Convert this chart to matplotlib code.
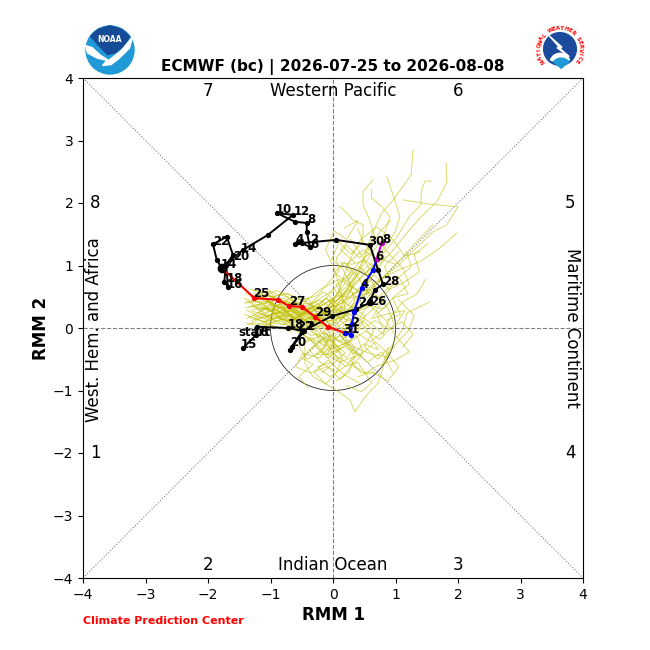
import numpy as np
import matplotlib
matplotlib.use('Agg')
from matplotlib import pyplot as plt
from matplotlib.patches import Circle, Wedge, Polygon

# observed RMM track
obs_rmm1 = [-1.44, -1.23, -1.22, -0.72, -0.46, -0.66, -0.69, -0.50, -0.02, 0.37, 0.58, 0.59, 0.67, 0.80, 0.72, 0.59,
            0.05, -0.50, -0.61, -0.56, -0.37, -0.42, -0.42, -0.61, -0.90, -0.64, -1.04, -1.44, -1.71, -1.74, -1.68,
            -1.71, -1.60, -1.70, -1.92, -1.86, -1.78]
obs_rmm2 = [-0.32, -0.11, 0.02, 0.00, -0.05, -0.30, -0.35, -0.06, 0.19, 0.30, 0.40, 0.43, 0.61, 0.70, 0.93, 1.33,
            1.41, 1.36, 1.34, 1.38, 1.30, 1.54, 1.68, 1.70, 1.84, 1.81, 1.49, 1.25, 1.02, 0.74, 0.66,
            1.01, 1.17, 1.46, 1.34, 1.09, 0.96]
obs_days = ['start', '16', '15', '18', '22', '2', '20', '24', '26', '28', '30', '2', '4', '6', '8', '10', '12', '14',
            '20', '22', '14', '18', '16']
obs_day_x = [-1.26, -1.15, -1.34, -0.59, -0.45, -0.37, -0.56, 0.53, 0.72, 0.93, 0.70, -0.30, -0.54, -0.30, -0.34,
             -0.78, -0.50, -1.34, -1.47, -1.79, -1.66, -1.57, -1.57]
obs_day_y = [-0.08, -0.08, -0.26, 0.05, 0.02, 0.02, -0.24, 0.40, 0.43, 0.75, 1.38, 1.42, 1.41, 1.34, 1.73,
             1.90, 1.86, 1.28, 1.15, 1.39, 1.01, 0.79, 0.70]

# ensemble mean forecast, split by month colour
fc_red_x = [-1.78, -1.26, -0.88, -0.70, -0.50, -0.29, -0.08, 0.19]
fc_red_y = [0.96, 0.48, 0.45, 0.35, 0.34, 0.18, 0.02, -0.08]
fc_blue_x = [0.19, 0.29, 0.30, 0.34, 0.46, 0.64, 0.70]
fc_blue_y = [-0.08, -0.11, 0.06, 0.26, 0.64, 0.93, 1.10]
fc_mag_x = [0.70, 0.78]
fc_mag_y = [1.10, 1.36]
fc_days = ['25', '27', '29', '31', '2', '4', '6', '8']
fc_day_x = [-1.14, -0.58, -0.16, 0.30, 0.35, 0.51, 0.75, 0.85]
fc_day_y = [0.55, 0.42, 0.24, -0.02, 0.08, 0.69, 1.15, 1.41]

# ensemble members (rmm1, rmm2)
m01 = [(-1.30, .42), (-1.00, .38), (-.72, .30), (-.40, .32), (-.12, .22), (.10, .30), (.28, .62), (.48, 1.06), (.54, 1.28), (.64, 1.54), (.78, 1.84), (.94, 2.02), (1.10, 2.24), (1.25, 2.45), (1.28, 2.85)]
m02 = [(-1.22, .50), (-.95, .45), (-.60, .40), (-.30, .20), (-.02, .28), (.25, .48), (.55, .72), (.80, 1.06), (.99, 1.28), (1.18, 1.52), (1.39, 1.76), (1.66, 2.02), (1.82, 2.32), (1.81, 2.64)]
m03 = [(-1.35, .35), (-1.02, .30), (-.70, .35), (-.38, .15), (-.10, .35), (.22, .55), (.50, .85), (.72, 1.10), (1.02, 1.45), (1.22, 1.78), (1.41, 1.98), (1.41, 2.18), (1.47, 2.35), (1.58, 2.35)]
m04 = [(-1.10, .58), (-.82, .40), (-.55, .25), (-.22, .30), (.05, .18), (.35, .48), (.68, .72), (1.05, 1.00), (1.30, 1.25), (1.60, 1.54), (1.82, 1.65), (2.00, 1.94), (1.55, 1.98), (1.12, 2.05)]
m05 = [(-1.28, .30), (-.95, .32), (-.68, .18), (-.35, .25), (-.08, .42), (.15, .60), (.40, .85), (.62, 1.05), (.82, 1.28), (.99, 1.53), (1.07, 1.78), (.96, 2.13), (.86, 2.42)]
m06 = [(-1.40, .55), (-1.05, .45), (-.75, .25), (-.45, .30), (-.15, .12), (.10, .40), (.30, .72), (.48, 1.00), (.70, 1.30), (.83, 1.53), (.91, 1.78), (.80, 1.92), (.62, 2.08), (.61, 2.22)]
m07 = [(-1.15, .62), (-.88, .42), (-.58, .38), (-.30, .10), (-.02, .35), (.22, .60), (.38, .90), (.55, 1.20), (.66, 1.48), (.58, 1.75), (.48, 1.97), (.48, 2.18), (.64, 2.37)]
m08 = [(-1.25, .18), (-.95, .30), (-.62, .15), (-.35, .32), (-.10, .30), (.08, .55), (.18, .85), (.30, 1.15), (.48, 1.48), (.48, 1.65), (.32, 1.73), (.22, 1.84), (.11, 1.94)]
m09 = [(-1.30, .12), (-1.00, .22), (-.68, .28), (-.35, .08), (-.05, .22), (.25, .30), (.50, .55), (.78, .80), (1.10, .95), (1.39, 1.06), (1.71, 1.28), (1.98, 1.52)]
m10 = [(-1.38, .40), (-1.05, .52), (-.70, .40), (-.42, .15), (-.15, .25), (.18, .18), (.42, .45), (.70, .70), (.88, .90), (1.07, 1.09), (1.34, 1.38), (1.60, 1.65)]
m11 = [(-1.20, .05), (-.95, .15), (-.70, .22), (-.50, .05), (-.45, -.25), (-.45, -.56), (-.32, -.78), (0, -.96), (.27, -1.15), (.35, -1.34), (.54, -1.07), (.72, -.88), (.86, -.46), (.99, -.19), (1.12, -.02), (1.18, .24), (1.55, .42)]
m12 = [(-1.32, .28), (-1.02, .18), (-.72, .12), (-.45, .15), (-.20, -.05), (.05, -.18), (.32, -.30), (.62, -.42), (.86, -.46), (1.02, -.24), (1.20, -.05), (1.30, .20), (1.05, .45)]
m13 = [(-1.18, .40), (-.92, .22), (-.65, .30), (-.32, .02), (-.18, -.28), (.05, -.45), (.30, -.60), (.52, -.72), (.72, -.60), (.98, -.52), (1.22, -.38), (1.00, -.12), (.85, .10)]
m14 = [(-1.42, .22), (-1.10, .10), (-.80, .30), (-.52, .12), (-.25, .18), (-.02, .05), (.22, -.15), (.40, .10), (.62, .28), (.85, .55), (1.02, .78), (1.25, .98), (1.18, 1.22)]
m15 = [(-1.25, .55), (-.98, .50), (-.72, .42), (-.48, .28), (-.18, .40), (.02, .62), (.18, .40), (.35, .72), (.58, .95), (.42, 1.22), (.28, 1.42), (.12, 1.25), (.35, 1.05)]
m16 = [(-1.36, .05), (-1.08, .20), (-.80, .05), (-.55, .18), (-.28, -.10), (-.02, -.22), (.15, -.48), (.05, -.72), (-.12, -.90), (-.30, -.70), (-.08, -.52), (.18, -.75), (.42, -.88)]
m17 = [(-1.15, .32), (-.85, .35), (-.55, .10), (-.25, -.05), (-.05, -.30), (-.22, -.48), (-.48, -.40), (-.60, -.62), (-.35, -.72), (-.10, -.62), (.12, -.82), (.30, -.60), (.48, -.42)]
m18 = [(-1.28, .60), (-1.00, .58), (-.75, .50), (-.50, .45), (-.25, .52), (-.08, .72), (.10, .92), (.05, 1.12), (.22, 1.32), (.42, 1.12), (.60, 1.32), (.76, 1.55), (.92, 1.72)]
m19 = [(-1.08, .45), (-.80, .55), (-.50, .32), (-.22, .45), (.02, .30), (.30, .20), (.55, .38), (.80, .30), (1.00, .52), (1.22, .70), (1.12, .95), (.90, 1.18), (.72, 1.40)]
m20 = [(-1.40, .32), (-1.12, .38), (-.85, .15), (-.60, .05), (-.35, -.12), (-.12, -.08), (.08, -.30), (.30, -.20), (.52, -.05), (.75, -.18), (.98, .05), (.88, .32), (.70, .52)]
m21 = [(-1.20, .25), (-.90, .10), (-.62, .25), (-.40, -.02), (-.12, -.22), (.12, -.12), (.32, -.42), (.50, -.25), (.72, -.35), (.60, -.12), (.42, .15), (.62, .45), (.48, .75)]
m22 = [(-1.32, .50), (-1.05, .35), (-.78, .38), (-.50, .18), (-.28, .30), (-.02, .45), (.20, .28), (.12, .62), (.32, .88), (.18, 1.05), (.02, .88), (.25, .72), (.45, .55)]
m23 = [(-1.10, .15), (-.85, .28), (-.60, .02), (-.30, .22), (-.05, .10), (.15, .25), (.40, .05), (.28, -.22), (.05, -.38), (-.18, -.20), (-.38, -.35), (-.20, -.55), (.02, -.68)]
m24 = [(-1.38, .15), (-1.10, .30), (-.82, .22), (-.55, .35), (-.32, .25), (-.12, .48), (.05, .32), (.22, .12), (.10, -.10), (.32, -.35), (.55, -.55), (.78, -.38), (.95, -.70)]
m25 = [(-1.22, .38), (-.95, .25), (-.68, .08), (-.42, -.15), (-.20, -.35), (-.02, -.55), (-.25, -.62), (-.05, -.78), (.18, -.62), (.40, -.55), (.62, -.88), (.45, -1.02), (.22, -.92)]
m26 = [(-1.30, .08), (-1.02, .05), (-.75, -.02), (-.52, .22), (-.30, .35), (-.08, .20), (.12, .45), (.35, .30), (.48, .62), (.72, .48), (.95, .72), (.82, .98), (1.05, 1.22)]
m27 = [(-1.12, .52), (-.90, .60), (-.62, .50), (-.38, .38), (-.15, .58), (.05, .42), (.28, .70), (.15, .95), (-.02, 1.10), (.10, 1.38), (.28, 1.18), (.48, 1.38), (.40, 1.58)]
m28 = [(-1.05, .30), (-.78, .12), (-.48, .20), (-.28, .42), (-.05, .15), (.18, -.05), (.38, .22), (.58, .10), (.80, -.10), (.92, .18), (1.12, .42), (1.35, .55), (1.48, .78)]
m29 = [(-1.35, .45), (-1.08, .22), (-.80, .42), (-.58, .22), (-.35, .02), (-.18, .22), (.02, -.05), (-.12, -.28), (-.35, -.15), (-.55, -.28), (-.42, -.50), (-.18, -.38), (-.05, -.10)]
m30 = [(-1.18, .12), (-.92, .02), (-.68, -.05), (-.42, .08), (-.20, .12), (.02, .22), (.22, .02), (.05, -.18), (-.10, -.42), (.10, -.55), (.35, -.45), (.25, -.72), (.05, -.85)]
m31 = [(-1.25, .42), (-.98, .42), (-.70, .20), (-.45, .40), (-.18, .30), (.08, .08), (.30, .35), (.52, .18), (.38, -.08), (.60, -.22), (.82, -.05), (.70, .22), (.90, .40)]
m32 = [(-1.42, .40), (-1.12, .48), (-.85, .32), (-.62, .35), (-.40, .48), (-.22, .15), (.02, .40), (.25, .62), (.45, .40), (.68, .62), (.55, .90), (.78, 1.10), (1.00, 1.02)]
m33 = [(-1.20, .58), (-.92, .35), (-.68, .48), (-.42, .25), (-.15, .05), (.05, -.10), (-.05, -.35), (.18, -.25), (.38, -.12), (.48, -.38), (.28, -.52), (.45, -.72), (.68, -.72)]
m34 = [(-1.30, .35), (-1.02, .42), (-.78, .08), (-.50, .25), (-.22, .22), (.00, .35), (.12, .15), (.35, .42), (.25, .78), (.42, .98), (.62, .78), (.45, .62), (.30, .52)]
m35 = [(-1.15, .22), (-.88, .18), (-.60, .32), (-.38, .02), (-.10, .02), (.10, .18), (.30, .10), (.15, -.12), (.35, -.30), (.22, -.48), (.00, -.30), (-.20, -.12), (-.42, -.22)]
m36 = [(-1.38, .28), (-1.10, .15), (-.82, .35), (-.55, .08), (-.32, .15), (-.12, -.15), (.12, -.35), (-.08, -.48), (-.30, -.28), (-.50, -.48), (-.32, -.58), (-.55, -.78), (-.40, -.95)]
m37 = [(-1.08, .40), (-.82, .48), (-.52, .40), (-.28, .12), (-.05, .32), (.18, .42), (.05, .70), (.28, .88), (.12, 1.05), (.30, 1.02), (.52, 1.08), (.68, .95), (.85, 1.15)]
m38 = [(-1.28, .20), (-1.00, .12), (-.72, .22), (-.48, .00), (-.22, .08), (.02, -.02), (.25, .15), (.45, -.02), (.68, .12), (.90, -.02), (1.10, .10), (1.28, -.10), (1.12, -.30)]
m39 = [(-1.22, .48), (-.95, .38), (-.65, .25), (-.40, .22), (-.12, -.02), (.10, -.22), (.28, -.08), (.48, .12), (.65, -.05), (.50, -.30), (.72, -.50), (.90, -.30), (.78, -.62)]
m40 = [(-1.35, .18), (-1.05, .08), (-.78, .15), (-.50, .28), (-.25, .02), (-.05, .18), (.15, .35), (.05, .10), (-.15, -.05), (.02, -.25), (.20, -.40), (.02, -.55), (-.18, -.72)]
m41 = [(-1.32, .62), (-1.00, .50), (-.72, .55), (-.45, .42), (-.20, .62), (.10, .78), (.38, .60), (.65, .85), (.90, .62), (1.12, .72), (1.38, .90), (1.30, 1.18), (1.52, 1.35)]
m42 = [(-1.40, .08), (-1.12, .02), (-.85, .12), (-.62, -.02), (-.38, .10), (-.12, .30), (.12, .62), (.02, .95), (-.12, 1.25), (.02, 1.55), (.22, 1.42), (.40, 1.72), (.18, 1.60)]
m43 = [(-1.18, .30), (-.90, .28), (-.62, .08), (-.35, .38), (-.08, .55), (.20, .78), (.42, 1.05), (.62, 1.22), (.45, 1.42), (.70, 1.62), (.95, 1.42), (1.15, 1.15), (1.40, 1.22)]
m44 = [(-1.28, .52), (-1.02, .60), (-.78, .30), (-.52, .42), (-.25, .12), (.00, .12), (.28, .22), (.60, .35), (.85, .12), (1.08, .22), (.95, .48), (1.20, .55), (1.05, .82)]
m45 = [(-1.10, .10), (-.82, .20), (-.58, -.05), (-.32, -.20), (-.10, -.42), (.18, -.30), (.42, -.45), (.68, -.22), (.85, -.38), (1.05, -.62), (.88, -.85), (.62, -.70), (.40, -.78)]
m46 = [(-1.42, .48), (-1.15, .25), (-.90, .48), (-.65, .12), (-.38, .30), (-.15, .38), (.10, .52), (.30, .48), (.55, .55), (.40, .82), (.22, 1.02), (.48, 1.25), (.70, 1.10)]
m47 = [(-1.24, .00), (-.98, .08), (-.72, .05), (-.48, -.10), (-.28, -.25), (-.05, -.12), (.15, -.25), (.38, -.40), (.20, -.62), (-.02, -.42), (-.28, -.42), (-.10, -.28), (.08, -.48)]
m48 = [(-1.15, .50), (-.88, .30), (-.65, .42), (-.38, .30), (-.10, .48), (.12, .28), (.32, .55), (.58, .62), (.78, .42), (.62, .15), (.85, .22), (1.15, .28), (1.02, .08)]

ens_members = [m01, m02, m03, m04, m05, m06, m07, m08, m09, m10, m11, m12, m13, m14, m15, m16, m17, m18, m19, m20,
               m21, m22, m23, m24, m25, m26, m27, m28, m29, m30, m31, m32, m33, m34, m35, m36, m37, m38, m39, m40,
               m41, m42, m43, m44, m45, m46, m47, m48]

sector_nums = ['7', '6', '8', '5', '1', '4', '2', '3']
sector_x = [-2.0, 2.0, -3.8, 3.8, -3.8, 3.8, -2.0, 2.0]
sector_y = [3.8, 3.8, 2.0, 2.0, -2.0, -2.0, -3.8, -3.8]
ticks = [-4, -3, -2, -1, 0, 1, 2, 3, 4]

fig = plt.figure(figsize=(6.5, 6.5), dpi=100)
ax = fig.add_axes([83 / 650, 72 / 650, 500 / 650, 500 / 650])
ax.set_xlim(-4, 4)
ax.set_ylim(-4, 4)
ax.set_xticks(ticks)
ax.set_yticks(ticks)
ax.tick_params(labelsize=10)

# phase space guide lines
ax.plot([-4, 4], [-4, 4], color='gray', lw=0.8, ls=':')
ax.plot([-4, 4], [4, -4], color='gray', lw=0.8, ls=':')
ax.axhline(0, color='gray', lw=0.8, ls='--')
ax.axvline(0, color='gray', lw=0.8, ls='--')
ax.add_patch(Circle((0, 0), 1, fill=False, color='black', lw=0.5))

for m in ens_members:
    ax.plot([p[0] for p in m], [p[1] for p in m], color='y', lw=0.6, alpha=0.65)

ax.plot(obs_rmm1, obs_rmm2, color='black', lw=1.4, marker='o', ms=2.8)
ax.plot(fc_red_x, fc_red_y, color='red', lw=1.5, marker='o', ms=2.8)
ax.plot(fc_blue_x, fc_blue_y, color='blue', lw=1.5, marker='o', ms=2.8)
ax.plot(fc_mag_x, fc_mag_y, color='m', lw=1.5, marker='o', ms=2.8)
ax.plot(obs_rmm1[-1], obs_rmm2[-1], 'o', color='black', ms=6)

for t, x, y in zip(obs_days, obs_day_x, obs_day_y):
    ax.text(x, y, t, fontsize=8.5, fontweight='bold', ha='center', va='center')
for t, x, y in zip(fc_days, fc_day_x, fc_day_y):
    ax.text(x, y, t, fontsize=8.5, fontweight='bold', ha='center', va='center')

for t, x, y in zip(sector_nums, sector_x, sector_y):
    ax.text(x, y, t, fontsize=12, ha='center', va='center')
ax.text(0, 3.8, 'Western Pacific', fontsize=12, ha='center', va='center')
ax.text(0, -3.8, 'Indian Ocean', fontsize=12, ha='center', va='center')
ax.text(-3.82, -0.02, 'West. Hem. and Africa', fontsize=12, rotation=90, ha='center', va='center')
ax.text(3.82, 0, 'Maritime Continent', fontsize=12, rotation=270, ha='center', va='center')

ax.set_xlabel('RMM 1', fontsize=12, fontweight='bold', labelpad=3)
ax.set_ylabel('RMM 2', fontsize=12, fontweight='bold', labelpad=2)
ax.set_title('ECMWF (bc) | 2026-07-25 to 2026-08-08', fontsize=11, fontweight='bold', pad=5)
fig.text(83 / 650, 1 - 621 / 650, 'Climate Prediction Center', color='red', fontsize=8, fontweight='bold',
         ha='left', va='center')

# NOAA emblem
noaa = fig.add_axes([84 / 650, 1 - 76 / 650, 52 / 650, 52 / 650])
noaa.set_xlim(-1.04, 1.04)
noaa.set_ylim(-1.04, 1.04)
noaa.axis('off')
noaa.add_patch(Circle((0, 0), 0.96, color='#1f9ad6'))
noaa.add_patch(Polygon([(-0.78, 0.55), (-0.48, 0.82), (0, 0.97), (0.48, 0.82), (0.78, 0.55), (0.62, 0.22), (0.22, -0.1),
                        (-0.1, -0.18), (-0.42, 0.15)], color='#164b98'))
noaa.add_patch(Polygon([(-0.98, 0.18), (-0.72, 0.1), (-0.4, -0.2), (-0.05, -0.42), (0.45, -0.02), (0.9, 0.52), (0.78, 0.08),
                        (0.38, -0.32), (0.05, -0.58), (-0.3, -0.62), (-0.12, -0.42), (-0.52, -0.32), (-0.9, -0.12)],
                       color='white'))
noaa.text(0, 0.42, 'NOAA', color='white', fontsize=5.5, fontweight='bold', ha='center', va='center')

# NWS emblem with the ring lettering
nws = fig.add_axes([535 / 650, 1 - 74 / 650, 50 / 650, 50 / 650])
nws.set_xlim(-1.04, 1.04)
nws.set_ylim(-1.04, 1.04)
nws.axis('off')
nws.add_patch(Circle((0, 0), 0.68, color='#1c4a9c'))
nws.add_patch(Wedge((0, -0.6), 0.42, 20, 160, color='white'))
nws.add_patch(Polygon([(-0.45, 0.55), (-0.05, 0.1), (-0.12, 0.05), (0.38, -0.32), (0.0, 0.02), (0.08, 0.08)], color='white'))
nws.add_patch(Wedge((0.05, -0.8), 0.42, 40, 140, color='#1f9ad6'))
ring_text = 'NATIONAL WEATHER SERVICE'
ring_angle = np.linspace(215, -35, len(ring_text))
for c, a in zip(ring_text, ring_angle):
    nws.text(0.86 * np.cos(np.radians(a)), 0.86 * np.sin(np.radians(a)), c, color='red', fontsize=4,
             fontweight='bold', rotation=a - 90, ha='center', va='center')

plt.savefig('out.png', dpi=100)
